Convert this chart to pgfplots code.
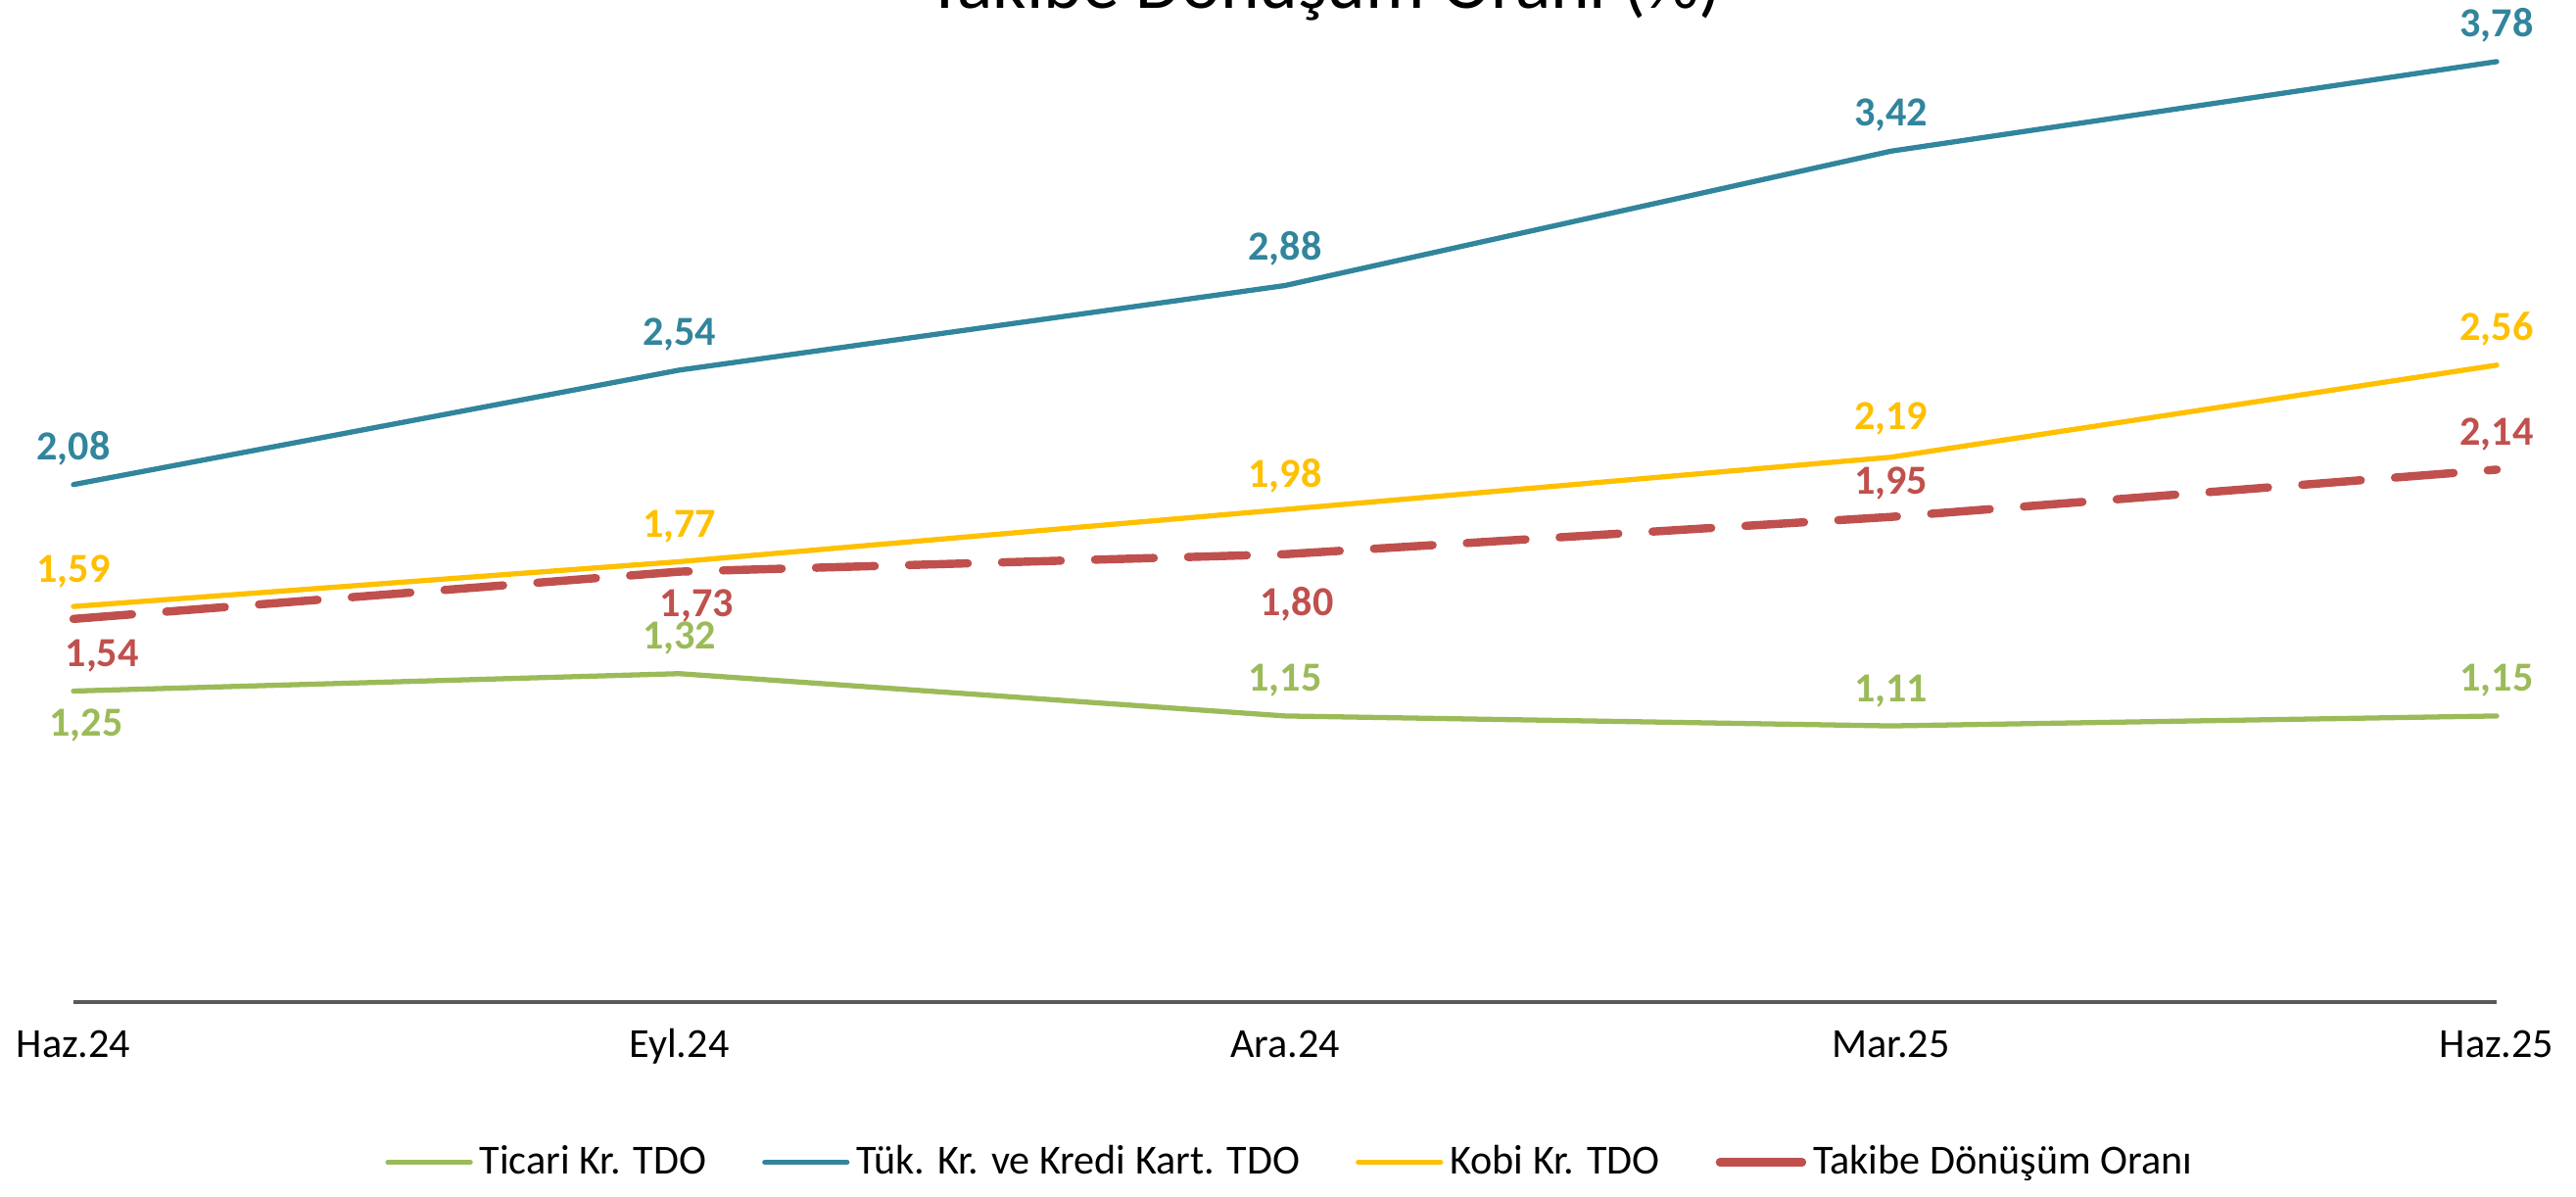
\documentclass[border=0pt]{standalone}
\usepackage{pgfplots}
\pgfplotsset{compat=1.18}
\usepackage{pgfplotstable}
\usepackage{fontspec}
\setmainfont{Carlito}
\definecolor{cgreen}{HTML}{9BBB59}
\definecolor{cblue}{HTML}{31859C}
\definecolor{cyellow}{HTML}{FFC000}
\definecolor{cred}{HTML}{C0504D}
\definecolor{caxis}{HTML}{595959}

\pgfplotstableread{
x y lab dx dy
0 1.25 1,25 3.7 -13.1
1 1.32 1,32 0 7.1
2 1.15 1,15 0 7.1
3 1.11 1,11 0 7.1
4 1.15 1,15 0 7.1
}\ticari
\pgfplotstableread{
x y lab dx dy
0 2.08 2,08 0 7.3
1 2.54 2,54 0 7.3
2 2.88 2,88 0 7.3
3 3.42 3,42 0 7.3
4 3.78 3,78 0 7.3
}\tuk
\pgfplotstableread{
x y lab dx dy
0 1.59 1,59 0 7.1
1 1.77 1,77 0 7.1
2 1.98 1,98 0 6.5
3 2.19 2,19 0 8.0
4 2.56 2,56 0 7.1
}\kobi
\pgfplotstableread{
x y lab dx dy
0 1.54 1,54 8.3 -13.9
1 1.73 1,73 5.1 -13.1
2 1.80 1,80 3.4 -17.9
3 1.95 1,95 0 6.5
4 2.14 2,14 0 7.1
}\takibe

\begin{document}
\begin{tikzpicture}
\clip (0,0) rectangle (26.30cm,12.21cm);
\begin{axis}[
  at={(0.75cm,1.98cm)}, anchor=south west,
  width=24.74cm, height=10.16cm, scale only axis,
  xmin=0, xmax=4, ymin=0, ymax=4,
  clip=false,
  axis x line*=bottom,
  hide y axis,
  x axis line style={caxis, line width=1pt},
  xtick={0,1,2,3,4},
  xticklabels={Haz.24,Eyl.24,Ara.24,Mar.25,Haz.25},
  major tick length=0pt,
  xticklabel style={anchor=base, yshift=-0.565cm, font=\fontsize{12}{14}\selectfont, text=black},
  point meta=explicit symbolic,
  nodes near coords,
  visualization depends on={\thisrow{dx} \as \dx},
  visualization depends on={\thisrow{dy} \as \dy},
  every node near coord/.style={anchor=base, inner sep=0pt, xshift=\dx pt, yshift=\dy pt, font=\fontsize{12}{14}\selectfont\bfseries},
  legend columns=4,
  legend style={at={(0.503,-0.161)}, anchor=center, draw=none, fill=none,
    font=\fontsize{12}{14}\selectfont,
    /tikz/every even column/.append style={column sep=0.5cm}},
  legend image code/.code={\draw[#1, solid] (0cm,0cm) -- (0.84cm,0cm);},
]
\addplot[cgreen, line width=1.5pt, line cap=round, every node near coord/.append style={text=cgreen}] table[x=x, y=y, meta=lab] {\ticari};
\addlegendentry{Ticari Kr. TDO}
\addplot[cblue, line width=1.5pt, line cap=round, every node near coord/.append style={text=cblue}] table[x=x, y=y, meta=lab] {\tuk};
\addlegendentry{Tük. Kr. ve Kredi Kart. TDO}
\addplot[cyellow, line width=1.5pt, line cap=round, every node near coord/.append style={text=cyellow}] table[x=x, y=y, meta=lab] {\kobi};
\addlegendentry{Kobi Kr. TDO}
\addplot[cred, line width=2.4pt, line cap=round, dash pattern=on 0.6cm off 0.35cm, every node near coord/.append style={text=cred}] table[x=x, y=y, meta=lab] {\takibe};
\addlegendentry{Takibe Dönüşüm Oranı}
\end{axis}
\node[anchor=base, font=\fontsize{21.5}{25}\selectfont] at (13.52cm,12.12cm) {Takibe Dönüşüm Oranı (\%)};
\end{tikzpicture}
\end{document}
